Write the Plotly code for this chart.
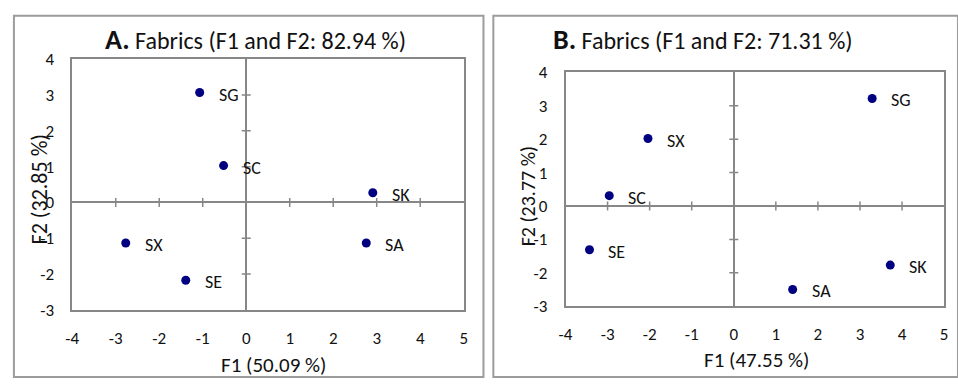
import plotly.graph_objects as go

# PCA scores of fabric samples on the first two factors
samples_a = ["SG", "SC", "SK", "SX", "SE", "SA"]
f1_a = [-1.07, -0.52, 2.91, -2.77, -1.39, 2.76]
f2_a = [3.07, 1.03, 0.27, -1.13, -2.17, -1.13]

samples_b = ["SG", "SX", "SC", "SE", "SK", "SA"]
f1_b = [3.29, -2.04, -2.96, -3.43, 3.72, 1.40]
f2_b = [3.22, 2.02, 0.31, -1.31, -1.77, -2.50]

x_range = [-4, 5]
y_range = [-3, 4]
x_ticks = [-4, -3, -2, -1, 0, 1, 2, 3, 4, 5]
y_ticks = [-3, -2, -1, 0, 1, 2, 3, 4]
x_tick_text = ["-4", "-3", "-2", "-1", "0", "1", "2", "3", "4", "5"]
y_tick_text = ["-3", "-2", "-1", "0", "1", "2", "3", "4"]

panels = [
    dict(letter="A.", title="Fabrics (F1 and F2: 82.94 %)",
         xlab="F1 (50.09 %)", ylab="F2 (32.85 %)",
         names=samples_a, x=f1_a, y=f2_a),
    dict(letter="B.", title="Fabrics (F1 and F2: 71.31 %)",
         xlab="F1 (47.55 %)", ylab="F2 (23.77 %)",
         names=samples_b, x=f1_b, y=f2_b),
]

W, H = 958, 390
FONT = "Calibri, Carlito, Lato, sans-serif"
GRAY = "#878787"
FRAME = "#9c9c9c"
NAVY = "#000080"
TXT = "#111111"

# pixel layout of each panel: frame box, plot box, title/label positions
geo = [
    dict(frame=(7, 482), plot=(66, 462, 52, 317), title=(251, 31),
         xlab=(270, 375), ylab=(33, 190), ysize=22),
    dict(frame=(492, 962), plot=(565, 948, 66, 313), title=(704, 31),
         xlab=(758, 370), ylab=(527, 197), ysize=20),
]


def px(x):
    return x / W


def py(y):
    return 1 - y / H


fig = go.Figure()
shapes = []
annotations = []

for i, (p, g) in enumerate(zip(panels, geo), start=1):
    xa = "x" if i == 1 else f"x{i}"
    ya = "y" if i == 1 else f"y{i}"
    l, r, t, b = g["plot"]

    fig.add_trace(go.Scatter(
        x=p["x"], y=p["y"], mode="markers", xaxis=xa, yaxis=ya,
        marker=dict(color=NAVY, size=9), hoverinfo="text",
        text=p["names"], showlegend=False, cliponaxis=False,
    ))

    axis_common = dict(
        showgrid=False, zeroline=True, zerolinecolor=GRAY, zerolinewidth=1.5,
        showline=True, mirror=True, linecolor=GRAY, linewidth=1.5,
        ticks="outside", tickcolor="rgba(0,0,0,0)",
        tickfont=dict(family=FONT, size=17, color=TXT),
        fixedrange=True,
    )
    fig.layout[f"xaxis{'' if i == 1 else i}"] = dict(
        axis_common, domain=[px(l), px(r)], range=x_range,
        tickvals=x_ticks, ticktext=x_tick_text, ticklen=12, anchor=ya,
    )
    fig.layout[f"yaxis{'' if i == 1 else i}"] = dict(
        axis_common, domain=[py(b), py(t)], range=y_range,
        tickvals=y_ticks, ticktext=y_tick_text, ticklen=13, anchor=xa,
    )

    # tick marks crossing the zero lines
    for tv in x_ticks:
        if tv in (0, x_range[0], x_range[1]):
            continue
        shapes.append(dict(type="line", xref=xa, yref=ya, x0=tv, x1=tv,
                           ysizemode="pixel", yanchor=0, y0=-4.5, y1=4.5,
                           line=dict(color=GRAY, width=1.5)))
    for tv in y_ticks:
        if tv in (0, y_range[0], y_range[1]):
            continue
        shapes.append(dict(type="line", xref=xa, yref=ya, y0=tv, y1=tv,
                           xsizemode="pixel", xanchor=0, x0=-4.5, x1=4.5,
                           line=dict(color=GRAY, width=1.5)))

    # frame around the panel
    f0, f1 = g["frame"]
    shapes.append(dict(type="rect", xref="paper", yref="paper",
                       x0=px(f0), x1=px(f1), y0=py(388), y1=py(6),
                       line=dict(color=FRAME, width=2)))

    # sample labels
    for name, xv, yv in zip(p["names"], p["x"], p["y"]):
        annotations.append(dict(
            x=xv, y=yv, xref=xa, yref=ya, text=name, showarrow=False,
            xanchor="left", yanchor="middle", xshift=17, yshift=-2,
            font=dict(family=FONT, size=18, color=TXT),
        ))

    # panel title
    tx, ty = g["title"]
    annotations.append(dict(
        x=px(tx), y=py(ty), xref="paper", yref="paper", showarrow=False,
        xanchor="center", yanchor="middle",
        text=f"<span style='font-size:28px'><b>{p['letter']}</b></span> {p['title']}",
        font=dict(family=FONT, size=24, color=TXT),
    ))

    # axis titles
    lx, ly = g["xlab"]
    annotations.append(dict(
        x=px(lx), y=py(ly), xref="paper", yref="paper", showarrow=False,
        xanchor="center", yanchor="middle", text=p["xlab"],
        font=dict(family=FONT, size=21, color=TXT),
    ))
    vx, vy = g["ylab"]
    annotations.append(dict(
        x=px(vx), y=py(vy), xref="paper", yref="paper", showarrow=False,
        xanchor="center", yanchor="middle", text=p["ylab"], textangle=-90,
        font=dict(family=FONT, size=g["ysize"], color=TXT),
    ))

fig.update_layout(
    width=W, height=H, margin=dict(l=0, r=0, t=0, b=0),
    paper_bgcolor="white", plot_bgcolor="white",
    shapes=shapes, annotations=annotations,
)

fig.write_html("out.html")
